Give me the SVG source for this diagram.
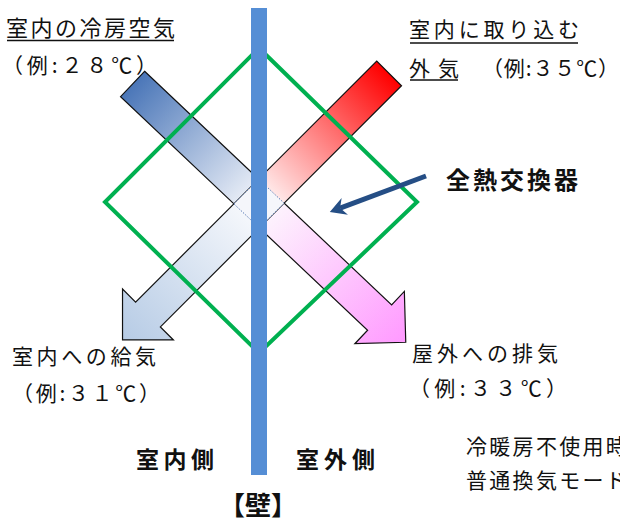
<svg xmlns="http://www.w3.org/2000/svg" width="620" height="521" viewBox="0 0 620 521">
<style>
text{font-family:"Noto Sans CJK JP","Noto Sans CJK SC",sans-serif;fill:#111}
.t{font-size:21px}
.b{font-size:23px;font-weight:bold}
.ul{stroke:#111;stroke-width:1.6}
.ar{stroke:#111;stroke-width:1.2;stroke-linejoin:miter}
</style>
<defs>
<linearGradient id="g1" gradientUnits="userSpaceOnUse" x1="-174" y1="0" x2="202" y2="0">
<stop offset="0" stop-color="#4A76B8"/>
<stop offset="0.46" stop-color="#F4F6FB"/>
<stop offset="0.5" stop-color="#FDF4FD"/>
<stop offset="1" stop-color="#FF99FF"/>
</linearGradient>
<linearGradient id="g2" gradientUnits="userSpaceOnUse" x1="-184" y1="0" x2="193" y2="0">
<stop offset="0" stop-color="#FF0000"/>
<stop offset="0.47" stop-color="#FFF6F6"/>
<stop offset="0.52" stop-color="#F6F8FC"/>
<stop offset="1" stop-color="#B6CBE5"/>
</linearGradient>
<marker id="mk" viewBox="-17 -10 18 20" refX="-11" refY="0" markerWidth="18" markerHeight="20" markerUnits="userSpaceOnUse" orient="auto">
<path d="M0,0 L-16,-9 L-11,0 L-16,9 Z" fill="#254E85"/>
</marker>
</defs>

<g id="arrow-exhaust">
<polygon class="ar" fill="url(#g1)" transform="translate(259,203.5) rotate(43.4)" points="-174,-17.5 166,-17.5 166,-36 202,0 166,36 166,17.5 -174,17.5"/>
</g>
<g id="arrow-supply">
<polygon class="ar" fill="url(#g2)" transform="translate(259,203.5) rotate(135)" points="-184,-17.5 157,-17.5 157,-36 193,0 157,36 157,17.5 -184,17.5"/>
</g>
<g id="overlap">
<polygon points="233.9,203.9 258.65,179.1 284.1,203.15 259.35,227.9" fill="#F5F6FB" stroke="#5B7DB5" stroke-width="1" stroke-dasharray="1.5 1.5"/>
</g>
<g id="exchanger">
<polygon points="259,48 417,202 259,353 105,202" fill="none" stroke="#00B050" stroke-width="4"/>
</g>
<g id="wall">
<rect x="251" y="8" width="16" height="467" fill="#558ED5"/>
</g>
<g id="connectors">
<line x1="426" y1="176" x2="340.1" y2="208.1" stroke="#254E85" stroke-width="5" marker-end="url(#mk)"/>
</g>

<g id="label-indoor-cool">
<text class="t" x="6" y="35.5" style="font-size:22px" textLength="169" lengthAdjust="spacing">室内の冷房空気</text>
<line class="ul" x1="7" y1="40.5" x2="174" y2="40.5"/>
<text class="t" x="2" y="73" textLength="155" lengthAdjust="spacing">（例:２８℃）</text>
</g>
<g id="label-outdoor-in">
<text class="t" x="409" y="36.5" textLength="170" lengthAdjust="spacing">室内に取り込む</text>
<line class="ul" x1="410" y1="43" x2="578" y2="43"/>
<text class="t" x="409" y="76" textLength="50" lengthAdjust="spacing">外気</text>
<line class="ul" x1="410" y1="80" x2="458" y2="80"/>
<text class="t" x="482" y="76" textLength="137" lengthAdjust="spacing">（例:３５℃）</text>
</g>
<g id="label-exchanger">
<text x="446" y="189" style="font-size:24px;font-weight:bold" textLength="132" lengthAdjust="spacing">全熱交換器</text>
</g>
<g id="label-supply">
<text class="t" x="12" y="363.5" textLength="144" lengthAdjust="spacing">室内への給気</text>
<text class="t" x="12" y="401" textLength="148" lengthAdjust="spacing">（例:３１℃）</text>
</g>
<g id="label-exhaust">
<text class="t" x="412" y="360.5" textLength="146" lengthAdjust="spacing">屋外への排気</text>
<text class="t" x="409" y="396" textLength="158" lengthAdjust="spacing">（例:３３℃）</text>
</g>
<g id="label-sides">
<text class="b" x="136" y="467.5" textLength="78" lengthAdjust="spacing">室内側</text>
<text class="b" x="296" y="467.5" textLength="79" lengthAdjust="spacing">室外側</text>
<text class="b" x="258" y="515" style="font-size:26px" text-anchor="middle">【壁】</text>
</g>
<g id="label-mode">
<text class="t" x="466" y="453.5" letter-spacing="2.3">冷暖房不使用時</text>
<text class="t" x="466" y="488" letter-spacing="2.3">普通換気モード</text>
</g>
</svg>
